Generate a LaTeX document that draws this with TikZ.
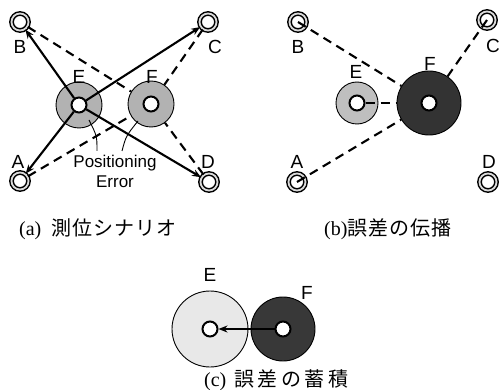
\documentclass[tikz,border=0pt]{standalone}
\usepackage{fontspec}
\setmainfont{Liberation Serif}
\newfontfamily\labfont{Liberation Sans}
\newfontfamily\jp{Noto Sans CJK JP}
\usetikzlibrary{arrows.meta}
\begin{document}
\begin{tikzpicture}[x=1pt,y=-1pt,
  anc/.style={circle,draw=black,line width=1.5pt,double=gray!30,double distance=1.8pt,minimum size=17pt,inner sep=0pt,fill=white},
  ring/.style={circle,draw=black,line width=0.9pt,inner sep=0pt,minimum size=#1},
  hole/.style={circle,draw=black,line width=2pt,fill=white,inner sep=0pt,minimum size=15pt},
  lab/.style={font=\labfont\fontsize{19}{19}\selectfont,inner sep=0pt},
  arr/.style={line width=2.1pt,-{Stealth[length=9pt,width=7pt]}},
  dsh/.style={line width=2.1pt,dash pattern=on 9pt off 6pt},
  lead/.style={line width=0.9pt},
  captext/.style={inner sep=0pt,anchor=west,font=\fontsize{20}{20}\selectfont}
]
\useasboundingbox (0,0) rectangle (500,390);
% ---------- panel (a)
\node[anc] (aB) at (20,22) {};
\node[anc] (aC) at (208,22) {};
\node[anc] (aA) at (20,181) {};
\node[anc] (aD) at (209,182) {};
\node[lab] (laB) at (20,47) {B};
\node[lab] (laC) at (215,47) {C};
\node[lab] (laA) at (18,162) {A};
\node[lab] (laD) at (208,162) {D};
\node[ring=46pt,fill=gray!60] (aE) at (79,105) {};
\node[hole] (aEi) at (79,105) {};
\node[ring=46pt,fill=gray!60] (aF) at (151,104) {};
\node[hole] (aFi) at (151,104) {};
\node[lab] (laE) at (79,77) {E};
\node[lab] (laF) at (152,77) {F};
\draw[dsh] (aB) -- (aF);
\draw[dsh] (aC) -- (aF);
\draw[dsh] (aA) -- (aF);
\draw[dsh] (aD) -- (aF);
\draw[arr] (aEi) -- (aB);
\draw[arr] (aEi) -- (aC);
\draw[arr] (aEi) -- (aA);
\draw[arr] (aEi) -- (aD);
\node[font=\labfont\fontsize{17}{17}\selectfont,inner sep=0pt] (pe1) at (115,163) {Positioning};
\node[font=\labfont\fontsize{17}{17}\selectfont,inner sep=0pt] (pe2) at (115,182) {Error};
\coordinate (l1a) at (97,151);
\coordinate (l1b) at (89,120);
\coordinate (l2a) at (122,151);
\coordinate (l2b) at (138,121);
\draw[lead] (l1a) .. controls (97,136) .. (l1b);
\draw[lead] (l2a) .. controls (126,136) .. (l2b);
% ---------- panel (b)
\node[anc] (bB) at (298,22) {};
\node[anc] (bC) at (487,20) {};
\node[anc] (bA) at (297,182) {};
\node[anc] (bD) at (488,182) {};
\node[lab] (lbB) at (298,47) {B};
\node[lab] (lbC) at (493,46) {C};
\node[lab] (lbA) at (297,162) {A};
\node[lab] (lbD) at (489,162) {D};
\node[ring=42pt,fill=gray!50] (bE) at (357,103) {};
\node[hole] (bEi) at (357,103) {};
\node[ring=64pt,fill=black!80] (bF) at (429,103) {};
\node[hole] (bFi) at (429,103) {};
\node[lab] (lbE) at (356,72) {E};
\node[lab] (lbF) at (430,64) {F};
\draw[dsh] (bB.center) -- (bF);
\draw[dsh] (bC.center) -- (bF);
\draw[dsh] (bA.center) -- (bF);
\draw[dsh] (bEi) -- (bF);
% ---------- panel (c)
\node[ring=76pt,fill=gray!18] (cE) at (210,329) {};
\node[hole] (cEi) at (210,329) {};
\node[ring=64pt,fill=black!78] (cF) at (283,329) {};
\node[hole] (cFi) at (283,329) {};
\node[lab] (lcE) at (210,275) {E};
\node[lab] (lcF) at (307,293) {F};
\draw[arr] (cFi) -- (cEi);
% ---------- captions
\node[captext] (capa) at (19,229) {(a)\hspace{10pt}{\jp 測\kern1pt 位\kern1pt シ\kern1pt ナ\kern1pt リ\kern1pt オ}};
\node[captext] (capb) at (324,229) {(b){\jp 誤\kern1pt 差\kern1pt の\kern1pt 伝\kern1pt 播}};
\node[captext] (capc) at (204,380) {(c)\hspace{8pt}{\jp 誤\kern3.5pt 差\kern3.5pt の\kern3.5pt 蓄\kern3.5pt 積}};
\end{tikzpicture}
\end{document}
